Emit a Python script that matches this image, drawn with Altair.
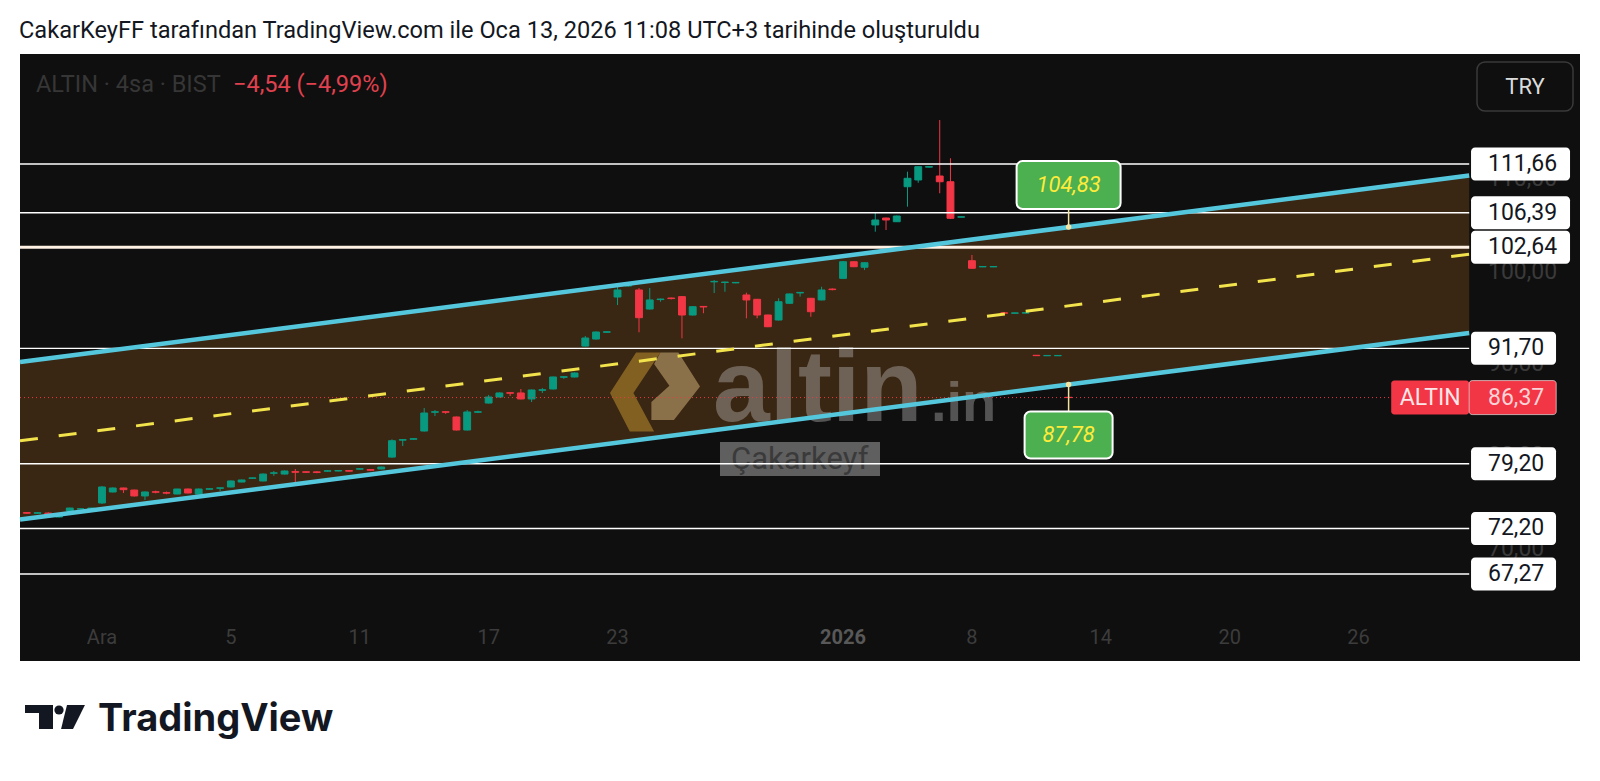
import altair as alt
import pandas as pd

# ---------------- data ----------------
bar_index = list(range(-7, 91))
open_prices = [73.92, 73.85, 73.87, 73.44, 74.09, 74.31, 74.20,
               74.96, 76.15, 76.58, 76.36, 75.72, 76.18, 76.08, 75.93, 76.47, 75.93,
               76.45, 76.55, 76.69, 77.23, 77.62, 77.34, 78.18, 78.09, 78.36, 78.34,
               78.33, 78.40, 78.42, 78.47, 78.62, 78.58, 78.64, 79.93, 81.76, 81.86,
               82.75, 84.78, 84.84, 84.27, 82.86, 84.78, 85.78, 86.43, 86.90, 86.87,
               86.22, 87.16, 87.30, 88.57, 88.60, 91.95, 92.71, 93.44, 97.26, 98.45,
               98.02, 95.96, 96.98, 97.15, 97.30, 95.31, 96.24, 98.90, 98.83, 98.79,
               97.48, 97.01, 95.31, 94.77, 96.58, 97.70, 97.12, 96.94, 98.12, 99.28,
               101.08, 100.48, 105.06, 105.81, 105.41, 109.20, 109.93, 111.32, 110.36, 109.74,
               105.90, 101.19, 100.52, 100.52, 95.55, 95.50, 95.52, 90.95, 90.90, 90.90,
               86.40]
high_prices = [73.95, 73.95, 73.95, 73.80, 74.45, 74.38, 74.45,
               76.80, 76.65, 76.62, 76.40, 76.20, 76.30, 76.20, 76.50, 76.52, 76.52,
               76.55, 76.62, 77.40, 77.50, 77.72, 78.15, 78.42, 78.48, 78.64, 78.40,
               78.40, 78.50, 78.52, 78.52, 78.72, 78.62, 78.90, 81.85, 81.86, 81.96,
               85.24, 85.02, 84.90, 84.32, 85.02, 84.95, 86.65, 86.92, 86.94, 87.30,
               87.25, 87.40, 88.65, 88.66, 89.10, 93.04, 93.52, 93.55, 98.34, 98.70,
               98.23, 98.23, 97.08, 97.20, 97.35, 96.26, 96.27, 99.10, 98.92, 98.88,
               97.73, 97.05, 95.35, 97.12, 97.63, 97.80, 97.16, 98.37, 98.20, 101.15,
               101.12, 101.02, 106.36, 105.85, 106.08, 110.83, 111.42, 111.42, 116.42, 112.28,
               105.98, 101.81, 100.58, 100.58, 95.58, 95.56, 95.58, 90.98, 90.96, 90.96,
               86.42]
low_prices = [73.80, 73.80, 73.50, 73.40, 74.05, 74.28, 74.15,
              74.85, 76.10, 76.04, 75.65, 75.28, 76.00, 75.90, 75.90, 76.00, 75.90,
              76.40, 76.26, 76.65, 77.20, 77.58, 77.30, 77.90, 78.05, 77.12, 78.20,
              78.18, 78.35, 78.38, 78.35, 78.58, 78.45, 78.60, 79.85, 81.13, 81.80,
              82.70, 84.38, 84.60, 82.80, 82.80, 84.70, 85.72, 86.40, 86.54, 86.18,
              85.89, 86.87, 87.25, 88.40, 88.55, 91.90, 92.65, 93.40, 96.39, 98.35,
              93.44, 95.90, 96.75, 97.00, 92.79, 95.25, 95.50, 97.69, 97.83, 98.75,
              94.95, 94.95, 94.00, 94.72, 96.55, 97.30, 95.12, 96.90, 97.98, 99.20,
              100.50, 100.18, 104.33, 104.51, 105.38, 107.04, 109.63, 111.28, 108.49, 105.70,
              105.88, 100.33, 100.50, 100.50, 95.48, 95.48, 95.50, 90.88, 90.88, 90.88,
              86.35]
close_prices = [73.85, 73.90, 73.55, 73.76, 74.41, 74.33, 74.41,
                76.69, 76.58, 76.40, 75.72, 76.15, 76.12, 76.02, 76.47, 76.04, 76.47,
                76.50, 76.60, 77.34, 77.45, 77.68, 78.09, 78.22, 78.42, 78.28, 78.28,
                78.26, 78.45, 78.47, 78.40, 78.67, 78.50, 78.85, 81.70, 81.82, 81.92,
                84.70, 84.84, 84.78, 82.86, 84.81, 84.84, 86.43, 86.87, 86.84, 86.22,
                87.19, 87.22, 88.60, 88.63, 89.03, 92.82, 93.47, 93.50, 98.02, 98.60,
                95.02, 96.94, 97.04, 97.09, 95.31, 96.21, 96.18, 98.95, 98.88, 98.84,
                96.94, 95.31, 94.04, 96.75, 97.59, 97.76, 95.67, 98.02, 98.06, 101.08,
                100.54, 100.97, 105.60, 105.60, 106.03, 110.11, 111.37, 111.38, 109.74, 105.78,
                105.95, 100.37, 100.56, 100.56, 95.50, 95.54, 95.56, 90.91, 90.93, 90.93,
                86.37]

level_prices = [111.66, 106.39, 102.64, 91.70, 79.20, 72.20, 67.27]
level_labels = ["111,66", "106,39", "102,64", "91,70", "79,20", "72,20", "67,27"]
axis_prices = [110, 100, 90, 80, 70]
axis_labels = ["110,00", "100,00", "90,00", "80,00", "70,00"]
date_bars = [0, 12, 24, 36, 48, 69, 81, 93, 105, 117]
date_labels = ["Ara", "5", "11", "17", "23", "2026", "8", "14", "20", "26"]
channel_bars = [-7.635, 127.3]
channel_upper = [90.215, 110.41]
channel_lower = [73.165, 93.364]
channel_mid = [81.69, 101.887]
last_price = 86.37
key_level = 102.64
anchor_bars = [90, 90]
anchor_values = [104.83, 87.78]
anchor_labels = ["104,83", "87,78"]

# ---------------- geometry ----------------
PLOT_W, PLOT_H = 1560, 607
X_MIN, X_MAX = -7.635, 137.616
Y_MIN, Y_MAX = 57.85, 123.57
PPU = PLOT_H / (Y_MAX - Y_MIN)
BPX = PLOT_W / (X_MAX - X_MIN)
DRAW_END = 127.3
AXIS_START = 127.47
AXIS_TEXT = 129.05

XS = alt.Scale(domain=[X_MIN, X_MAX], nice=False, zero=False)
YS = alt.Scale(domain=[Y_MIN, Y_MAX], nice=False, zero=False)


def xq(f):
    return alt.X(f"{f}:Q", scale=XS, axis=None)


def yq(f):
    return alt.Y(f"{f}:Q", scale=YS, axis=None)


def px_text(text, x, y, **kw):
    return alt.Chart(pd.DataFrame({"t": [text]})).mark_text(**kw).encode(
        x=alt.value(x), y=alt.value(y), text="t:N")


def px_rect(x1, x2, y1, y2, **kw):
    return alt.Chart(pd.DataFrame({"k": [0]})).mark_rect(**kw).encode(
        x=alt.value(x1), x2=alt.value(x2), y=alt.value(y1), y2=alt.value(y2))


def px_symbol(shape, x, y, size, color, opacity=1.0):
    return alt.Chart(pd.DataFrame({"k": [0]})).mark_point(
        shape=shape, size=size, filled=True, color=color, opacity=opacity, strokeWidth=0
    ).encode(x=alt.value(x), y=alt.value(y))


# ---------------- channel ----------------
ch = pd.DataFrame({"bar": channel_bars, "upper": channel_upper,
                   "lower": channel_lower, "mid": channel_mid})
ch_fill = alt.Chart(ch).mark_area(color="#3a2713", opacity=1).encode(
    x=xq("bar"), y=yq("upper"), y2="lower:Q")
ch_up = alt.Chart(ch).mark_line(color="#55c7dd", strokeWidth=4.5).encode(x=xq("bar"), y=yq("upper"))
ch_lo = alt.Chart(ch).mark_line(color="#55c7dd", strokeWidth=4.5).encode(x=xq("bar"), y=yq("lower"))
ch_mid = alt.Chart(ch).mark_line(color="#f2e24c", strokeWidth=3, strokeDash=[18, 21],
                                 strokeCap="butt").encode(x=xq("bar"), y=yq("mid"))

# ---------------- watermark ----------------
wm_left = px_symbol("M -0.42 -0.88 L 0.12 -0.88 L -0.48 0.02 L -0.02 0.88 L -0.56 0.88 L -1 0.02 Z",
                    635, 338, 8100, "#8f6b25", 0.85)
wm_right = px_symbol("M 0.12 -0.88 L 0.52 -0.88 L 1 -0.12 L 0.42 0.62 L -0.08 0.62 L -0.08 0.22 "
                     "L 0.32 -0.14 L -0.02 -0.62 Z", 635, 338, 8100, "#a08458", 0.8)
wm_text = px_text("altin", 693, 367, font="Liberation Sans", fontWeight="bold", fontSize=102,
                  color="#c8c8c8", opacity=0.37, align="left", baseline="alphabetic")
wm_in = px_text(".in", 911, 367, font="Liberation Sans", fontWeight="bold", fontSize=56,
                color="#c8c8c8", opacity=0.37, align="left", baseline="alphabetic")
sig_box = px_rect(700, 860, 388, 422, fill="#5f5f5f")
sig_text = px_text("Çakarkeyf", 711, 406, font="Roboto", fontSize=31, color="#3a3a3a",
                   align="left", baseline="middle")

# ---------------- candles ----------------
cd = pd.DataFrame({"bar": bar_index, "open": open_prices, "high": high_prices,
                   "low": low_prices, "close": close_prices})
cbase = alt.Chart(cd).transform_calculate(
    dir="datum.close >= datum.open ? 'up' : 'down'",
    left="datum.bar - 0.32", right="datum.bar + 0.32")
cscale = alt.Scale(domain=["up", "down"], range=["#089981", "#f23645"])
wicks = cbase.mark_rule(strokeWidth=1).encode(
    x=xq("bar"), y=yq("high"), y2="low:Q",
    color=alt.Color("dir:N", scale=cscale, legend=None))
bodies = cbase.mark_rect(strokeWidth=1).encode(
    x=xq("left"), x2="right:Q", y=yq("open"), y2="close:Q",
    fill=alt.Fill("dir:N", scale=cscale, legend=None),
    stroke=alt.Stroke("dir:N", scale=cscale, legend=None))

# ---------------- levels ----------------
lv = pd.DataFrame({"price": level_prices, "label": level_labels})
level_rules = alt.Chart(lv).transform_calculate(
    x0=f"{X_MIN}", x1=f"{DRAW_END}").mark_rule().encode(
    x=xq("x0"), x2="x1:Q", y=yq("price"),
    strokeWidth=alt.condition(f"datum.price == {key_level}", alt.value(3), alt.value(1.4)),
    color=alt.condition(f"datum.price == {key_level}", alt.value("#fff1e4"), alt.value("#ffffff")))

lp = pd.DataFrame({"price": [last_price], "label": [f"{last_price:.2f}".replace(".", ",")]})
price_line = alt.Chart(lp).transform_calculate(x0=f"{X_MIN}", x1=f"{DRAW_END}").mark_rule(
    color="#f23645", strokeWidth=1, strokeDash=[1, 3]).encode(x=xq("x0"), x2="x1:Q", y=yq("price"))

# ---------------- anchored labels ----------------
an = pd.DataFrame({"bar": anchor_bars, "value": anchor_values, "label": anchor_labels})
an_offsets_px = [-42, 50.5]
an_half_h_px = [24, 23.5]
centers = [v - o / PPU for v, o in zip(anchor_values, an_offsets_px)]
halves = [h / PPU for h in an_half_h_px]
an["c"] = centers
an["hh"] = halves
an["edge"] = [c - h if o < 0 else c + h for c, h, o in zip(centers, halves, an_offsets_px)]
abase = alt.Chart(an).transform_calculate(
    top="datum.c + datum.hh", bot="datum.c - datum.hh",
    bx0=f"datum.bar - (16*length(datum.label)+8)/2/{BPX}",
    bx1=f"datum.bar + (16*length(datum.label)+8)/2/{BPX}")
an_conn = abase.mark_rule(color="#f3e3a0", strokeWidth=1.5).encode(
    x=xq("bar"), y=yq("value"), y2="edge:Q")
an_dot = abase.mark_point(filled=True, color="#f3e3a0", size=30, opacity=1).encode(
    x=xq("bar"), y=yq("value"))
an_box = abase.mark_rect(fill="#4caf50", stroke="#ffffff", strokeWidth=2, cornerRadius=6).encode(
    x=xq("bx0"), x2="bx1:Q", y=yq("top"), y2="bot:Q")
an_text = abase.mark_text(font="Roboto", fontSize=22, fontStyle="italic", color="#ffeb3b",
                          align="center", baseline="middle").encode(
    x=xq("bar"), y=yq("c"), text="label:N")

# ---------------- price scale ----------------
ax = pd.DataFrame({"price": axis_prices, "label": axis_labels})
axis_text = alt.Chart(ax).transform_calculate(xt=f"{AXIS_TEXT}").mark_text(
    font="Roboto", fontSize=23, color="#3a3a3a", align="left", baseline="middle").encode(
    x=xq("xt"), y=yq("price"), text="label:N")

lbase = alt.Chart(lv).transform_calculate(
    bx0=f"{AXIS_START}", bx1=f"{AXIS_START} + (14*length(datum.label)+15)/{BPX}",
    top=f"datum.price + 16.5/{PPU}", bot=f"datum.price - 16.5/{PPU}", xt=f"{AXIS_TEXT}")
level_boxes = lbase.mark_rect(fill="#ffffff", cornerRadius=4).encode(
    x=xq("bx0"), x2="bx1:Q", y=yq("top"), y2="bot:Q")
level_texts = lbase.mark_text(font="Roboto", fontSize=23, color="#131722", align="left",
                              baseline="middle").encode(x=xq("xt"), y=yq("price"), text="label:N")

tbase = alt.Chart(lp).transform_calculate(
    n0=f"{DRAW_END} - 78/{BPX}", n1=f"{DRAW_END}", v1=f"{DRAW_END} + 87/{BPX}",
    nc=f"{DRAW_END} - 39/{BPX}", xt=f"{AXIS_TEXT}",
    top=f"datum.price + 17/{PPU}", bot=f"datum.price - 17/{PPU}")
tag_name_box = tbase.mark_rect(fill="#f23645", cornerRadius=3).encode(
    x=xq("n0"), x2="n1:Q", y=yq("top"), y2="bot:Q")
tag_val_box = tbase.mark_rect(fill="#f23645", cornerRadius=3, stroke="#ffffff", strokeWidth=0.6).encode(
    x=xq("n1"), x2="v1:Q", y=yq("top"), y2="bot:Q")
tag_name = tbase.mark_text(font="Roboto", fontSize=23, color="#fde6e8", align="center",
                           baseline="middle", text="ALTIN").encode(x=xq("nc"), y=yq("price"))
tag_val = tbase.mark_text(font="Roboto", fontSize=23, color="#fbd3d7", align="left",
                          baseline="middle").encode(x=xq("xt"), y=yq("price"), text="label:N")

# ---------------- time labels ----------------
dt = pd.DataFrame({"bar": date_bars, "label": date_labels})
date_text = alt.Chart(dt).transform_filter("datum.label != '2026'").mark_text(
    font="Roboto", fontSize=20, align="center", baseline="middle", color="#3c3c3c").encode(
    x=xq("bar"), y=alt.value(584), text="label:N")
year_text = alt.Chart(dt).transform_filter("datum.label == '2026'").mark_text(
    font="Roboto", fontSize=20, fontWeight="bold", align="center", baseline="middle",
    color="#585858").encode(x=xq("bar"), y=alt.value(584), text="label:N")

# ---------------- header & frame texts ----------------
hdr1 = px_text("ALTIN · 4sa · BIST", 16, 31, font="Roboto", fontSize=23.5, color="#363636",
               align="left", baseline="middle")
hdr2 = px_text("−4,54 (−4,99%)", 213, 31, font="Roboto", fontSize=23.5, color="#e0414e",
               align="left", baseline="middle")
try_box = px_rect(1457, 1553, 8, 57, fill="#0f0f0f", stroke="#3a3a3a", strokeWidth=1.5, cornerRadius=8)
try_txt = px_text("TRY", 1505, 33, font="Roboto", fontSize=22, color="#dcdcdc",
                  align="center", baseline="middle")

title = px_text("CakarKeyFF tarafından TradingView.com ile Oca 13, 2026 11:08 UTC+3 tarihinde oluşturuldu",
                -1, -23, font="Roboto", fontSize=23.6, color="#131722", align="left", baseline="middle")

logo_bar = px_rect(5, 33, 651, 659, fill="#131722")
logo_stem = px_rect(19, 33, 651, 675, fill="#131722")
logo_dot = px_symbol("circle", 39, 656, 85, "#131722")
logo_slash = px_symbol("M -0.46 -0.92 L 0.92 -0.92 L 0 0.92 L -0.92 0.92 Z", 53, 663, 676, "#131722")
logo_text = px_text("TradingView", 78, 677, font="Inter", fontWeight="bold", fontSize=38,
                    color="#131722", align="left", baseline="alphabetic")

chart = alt.layer(
    ch_fill,
    wm_left, wm_right, wm_text, wm_in, sig_box, sig_text,
    wicks, bodies,
    level_rules, price_line,
    ch_mid, ch_up, ch_lo,
    an_conn, an_dot, an_box, an_text,
    axis_text, level_boxes, level_texts,
    tag_name_box, tag_val_box, tag_name, tag_val,
    date_text, year_text,
    hdr1, hdr2, try_box, try_txt,
    title, logo_bar, logo_stem, logo_dot, logo_slash, logo_text,
).properties(
    width=PLOT_W, height=PLOT_H,
    autosize=alt.AutoSizeParams(type="none"),
    padding={"left": 12, "top": 46, "right": 12, "bottom": 112},
    background="#ffffff",
).configure_view(fill="#0f0f0f", strokeWidth=0)

chart.save("out.html", embed_options={"renderer": "svg", "actions": False})
